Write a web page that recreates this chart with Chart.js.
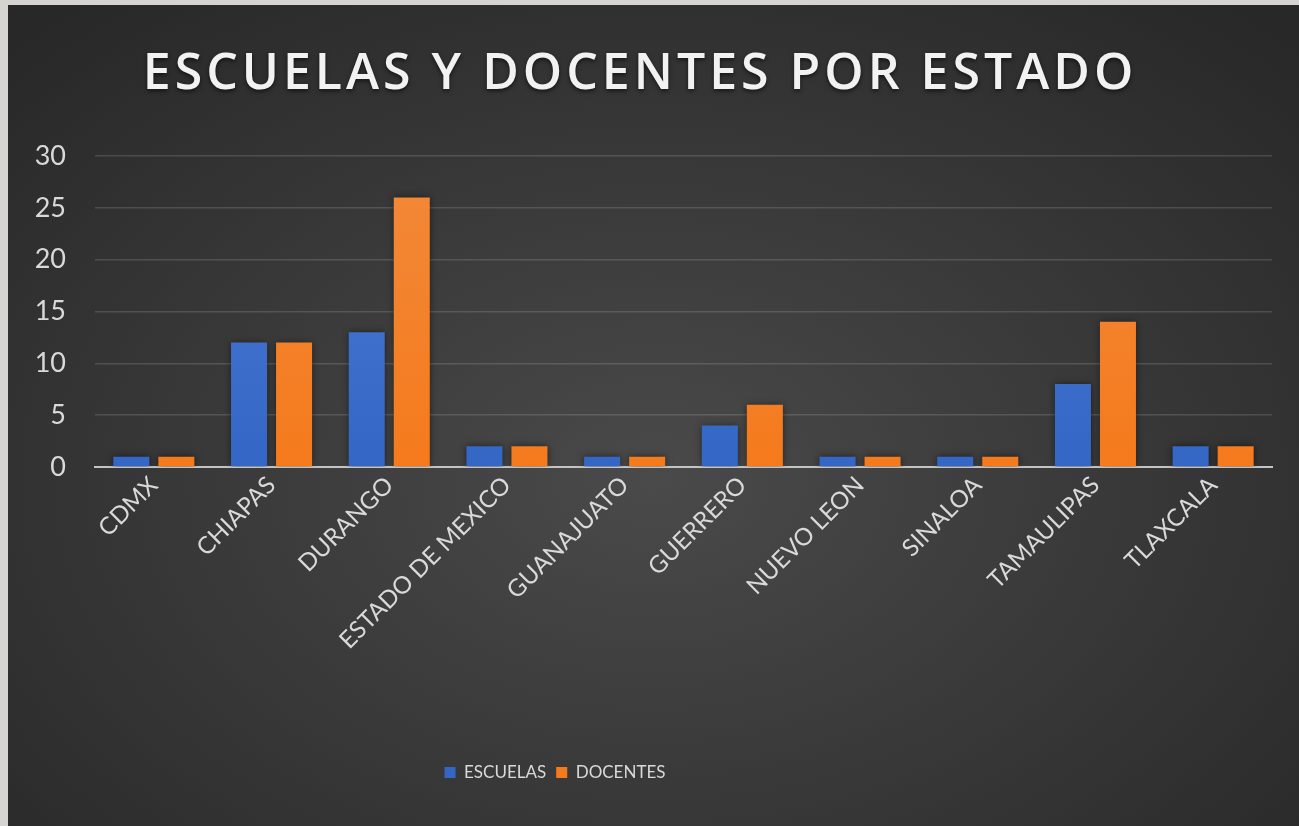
<!DOCTYPE html>
<html>
<head>
<meta charset="utf-8">
<script src="https://cdn.jsdelivr.net/npm/chart.js@4"></script>
<style>
  html, body { margin: 0; padding: 0; background: #d6d4d1; }
  #panel {
    position: absolute; left: 8px; top: 5px; width: 1291px; height: 821px;
    background: radial-gradient(ellipse 70% 75% at 50% 58%, #4a4a4a 0%, #393939 50%, #282828 100%);
  }
</style>
</head>
<body>
<div id="panel"><canvas id="escuelasChart" width="1291" height="821"></canvas></div>
<script>
const titulo = 'ESCUELAS Y DOCENTES POR ESTADO';
const estados = ['CDMX', 'CHIAPAS', 'DURANGO', 'ESTADO DE MEXICO', 'GUANAJUATO',
    'GUERRERO', 'NUEVO LEON', 'SINALOA', 'TAMAULIPAS', 'TLAXCALA'];
const escuelas = [1, 12, 13, 2, 1, 4, 1, 1, 8, 2];
const docentes = [1, 12, 26, 2, 1, 6, 1, 1, 14, 2];

// degradado vertical para las barras
function degradado(arriba, abajo) {
    return (context) => {
        const area = context.chart.chartArea;
        if (!area) return abajo;
        const g = context.chart.ctx.createLinearGradient(0, area.top, 0, area.bottom);
        g.addColorStop(0, arriba);
        g.addColorStop(1, abajo);
        return g;
    };
}

// sombra de las barras, como en Excel
const sombraBarras = {
    id: 'sombraBarras',
    beforeDatasetsDraw(chart) {
        const ctx = chart.ctx;
        ctx.save();
        ctx.shadowColor = 'rgba(0, 0, 0, 0.55)';
        ctx.shadowBlur = 7;
    },
    afterDatasetsDraw(chart) {
        chart.ctx.restore();
    },
};

// titulo espaciado con sombra, leyenda corrida a la izquierda
const ajustes = {
    id: 'ajustes',
    afterLayout(chart) {
        const tb = chart.titleBlock;
        if (tb && !tb._espaciado) {
            const dibujar = tb.draw.bind(tb);
            tb.draw = function () {
                const c = this.ctx;
                c.save();
                c.letterSpacing = '4px';
                c.shadowColor = 'rgba(0, 0, 0, 0.6)';
                c.shadowBlur = 4;
                c.shadowOffsetY = 2;
                dibujar();
                c.restore();
            };
            tb._espaciado = true;
        }
        const l = chart.legend;
        l.right -= 170;
        l.width -= 170;
    },
};

const ctx = document.getElementById('escuelasChart').getContext('2d');
const escuelasChart = new Chart(ctx, {
    type: 'bar',
    data: {
        labels: estados,
        datasets: [
            {
                label: 'ESCUELAS',
                data: escuelas,
                backgroundColor: degradado('#4b7bd3', '#3466c6'),
                categoryPercentage: 0.765,
                barPercentage: 0.8,
            },
            {
                label: 'DOCENTES',
                data: docentes,
                backgroundColor: degradado('#f2893a', '#f57a1c'),
                categoryPercentage: 0.765,
                barPercentage: 0.8,
            },
        ],
    },
    options: {
        responsive: false,
        animation: false,
        layout: { padding: { left: 0, right: 27, top: 0, bottom: 35 } },
        plugins: {
            title: {
                display: true,
                text: titulo,
                color: '#f2f2f2',
                font: { family: 'Open Sans', weight: 600, size: 50 },
                padding: { top: 40, bottom: 51 },
            },
            legend: {
                position: 'bottom',
                labels: {
                    color: '#d9d9d9',
                    font: { family: 'Lato', size: 17 },
                    boxWidth: 11,
                    boxHeight: 11,
                    padding: 10,
                },
            },
            tooltip: { enabled: false },
        },
        scales: {
            x: {
                grid: { display: false },
                border: { display: true, color: '#c4c4c4', width: 2 },
                ticks: {
                    color: '#d9d9d9',
                    font: { family: 'Lato', size: 24 },
                    minRotation: 45,
                    maxRotation: 45,
                    padding: -4,
                },
                afterFit: (scale) => { scale.height = 287; },
            },
            y: {
                min: 0,
                max: 30,
                ticks: {
                    stepSize: 5,
                    color: '#d9d9d9',
                    font: { family: 'Lato', size: 27 },
                    padding: 29,
                },
                grid: { color: 'rgba(255, 255, 255, 0.14)', lineWidth: 1.5, drawTicks: false },
                border: { display: false },
                afterFit: (scale) => { scale.width = 87; },
            },
        },
    },
    plugins: [sombraBarras, ajustes],
});
</script>
</body>
</html>
